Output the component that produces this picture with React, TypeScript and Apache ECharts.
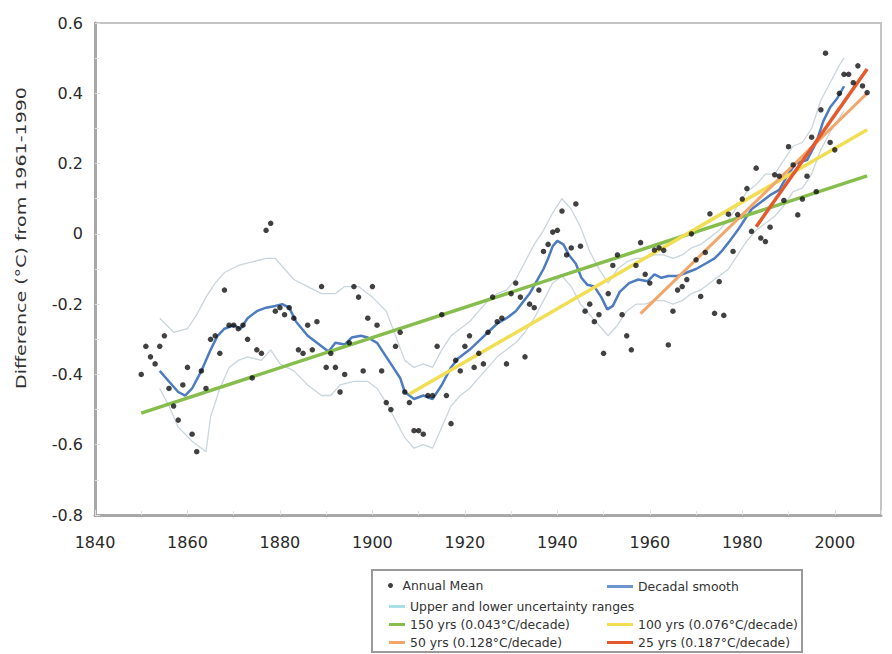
import React, { useEffect, useRef } from 'react';
import * as echarts from 'echarts';

const firstYear = 1850;
const annualMean: number[] = [
  -0.40, -0.32, -0.35, -0.37, -0.32, -0.29, -0.44, -0.49, -0.53, -0.43,
  -0.38, -0.57, -0.62, -0.39, -0.44, -0.30, -0.29, -0.34, -0.16, -0.26,
  -0.26, -0.27, -0.26, -0.30, -0.41, -0.33, -0.34, 0.01, 0.03, -0.22,
  -0.21, -0.23, -0.21, -0.24, -0.33, -0.34, -0.26, -0.33, -0.25, -0.15,
  -0.38, -0.34, -0.38, -0.45, -0.40, -0.31, -0.15, -0.18, -0.39, -0.24,
  -0.15, -0.26, -0.39, -0.48, -0.50, -0.32, -0.28, -0.45, -0.48, -0.56,
  -0.56, -0.57, -0.46, -0.46, -0.32, -0.23, -0.46, -0.54, -0.36, -0.39,
  -0.32, -0.29, -0.38, -0.34, -0.37, -0.28, -0.18, -0.25, -0.24, -0.37,
  -0.17, -0.14, -0.18, -0.35, -0.20, -0.21, -0.16, -0.05, -0.03, 0.005,
  0.01, 0.065, -0.06, -0.04, 0.085, -0.035, -0.22, -0.20, -0.25, -0.23,
  -0.34, -0.17, -0.09, -0.06, -0.23, -0.29, -0.33, -0.09, -0.025, -0.115,
  -0.14, -0.046, -0.04, -0.047, -0.316, -0.22, -0.16, -0.15, -0.13, 0.0,
  -0.074, -0.178, -0.053, 0.057, -0.226, -0.136, -0.232, 0.056, -0.05, 0.055,
  0.099, 0.129, 0.007, 0.187, -0.012, -0.022, 0.019, 0.168, 0.164, 0.095,
  0.248, 0.196, 0.054, 0.099, 0.164, 0.275, 0.12, 0.353, 0.514, 0.26,
  0.239, 0.40, 0.454, 0.454, 0.43, 0.478, 0.421, 0.402,
];

const decadalSmooth: [number, number][] = [
  [1854, -0.39], [1856, -0.42], [1858, -0.45], [1859.5, -0.46], [1861, -0.44],
  [1863, -0.39], [1865, -0.33], [1866.5, -0.29], [1868, -0.27], [1870, -0.26],
  [1871.5, -0.27], [1873, -0.24], [1875, -0.22], [1877, -0.21], [1879, -0.205],
  [1880.5, -0.2], [1882, -0.21], [1883.5, -0.25], [1886, -0.29], [1889, -0.32],
  [1890.5, -0.335], [1892, -0.31], [1894, -0.315], [1895.5, -0.295], [1897.5, -0.29],
  [1899, -0.295], [1901, -0.31], [1902.5, -0.34], [1904, -0.37], [1906, -0.41],
  [1907, -0.45], [1909, -0.47], [1911, -0.46], [1913, -0.47], [1915, -0.43],
  [1917, -0.38], [1918.5, -0.355], [1921, -0.33], [1923, -0.305], [1925, -0.28],
  [1927, -0.255], [1929, -0.24], [1931, -0.22], [1932.5, -0.195], [1934, -0.17],
  [1935.5, -0.135], [1937, -0.1], [1938, -0.07], [1939, -0.035], [1940, -0.02],
  [1941.3, -0.03], [1942.5, -0.06], [1944, -0.085], [1945.2, -0.125], [1946.5, -0.145],
  [1948, -0.15], [1949.5, -0.18], [1950.8, -0.215], [1952, -0.205], [1953.5, -0.165],
  [1955.5, -0.14], [1957.5, -0.13], [1959.5, -0.135], [1961, -0.115], [1962.5, -0.125],
  [1964, -0.12], [1966, -0.12], [1968, -0.11], [1970, -0.1], [1972, -0.085],
  [1974, -0.07], [1975.5, -0.05], [1977, -0.025], [1979, 0.01], [1980.5, 0.04],
  [1982, 0.07], [1984, 0.09], [1986, 0.11], [1988, 0.125], [1989.5, 0.16],
  [1991.5, 0.2], [1994, 0.21], [1996, 0.26], [1997.5, 0.32], [1999, 0.36],
  [2000.5, 0.385], [2002, 0.42],
];

const upperRange: [number, number][] = [
  [1854, -0.24], [1857, -0.28], [1860, -0.27], [1862, -0.23], [1864, -0.18],
  [1866, -0.14], [1868, -0.11], [1871, -0.09], [1874, -0.08], [1877, -0.07],
  [1879, -0.07], [1881, -0.1], [1883, -0.13], [1886, -0.15], [1889, -0.17],
  [1892, -0.17], [1894, -0.15], [1897, -0.15], [1900, -0.18], [1903, -0.22],
  [1905, -0.29], [1907, -0.36], [1909, -0.38], [1911, -0.37], [1913, -0.38],
  [1915, -0.33], [1917, -0.29], [1919, -0.27], [1921, -0.25], [1923, -0.22],
  [1925, -0.19], [1927, -0.17], [1929, -0.16], [1931, -0.13], [1933, -0.08],
  [1935, -0.03], [1937, 0.01], [1939, 0.06], [1941, 0.1], [1943, 0.07],
  [1945, 0.02], [1947, -0.05], [1949, -0.1], [1951, -0.14], [1953, -0.1],
  [1955, -0.08], [1957, -0.07], [1959, -0.07], [1961, -0.06], [1963, -0.06],
  [1965, -0.07], [1967, -0.06], [1969, -0.04], [1971, -0.03], [1973, -0.01],
  [1975, 0.01], [1977, 0.04], [1979, 0.08], [1981, 0.12], [1983, 0.14],
  [1985, 0.17], [1987, 0.17], [1989, 0.21], [1991, 0.25], [1993, 0.26],
  [1995, 0.3], [1997, 0.38], [1999, 0.43], [2001, 0.48], [2002, 0.5],
];

const lowerRange: [number, number][] = [
  [1854, -0.44], [1856, -0.49], [1858, -0.55], [1861, -0.59], [1864, -0.62],
  [1865, -0.52], [1867, -0.44], [1869, -0.38], [1871, -0.36], [1873, -0.35],
  [1876, -0.36], [1878, -0.33], [1880, -0.37], [1883, -0.39], [1886, -0.43],
  [1889, -0.46], [1891, -0.46], [1893, -0.43], [1896, -0.42], [1899, -0.42],
  [1901, -0.44], [1903, -0.48], [1905, -0.53], [1907, -0.58], [1909, -0.61],
  [1911, -0.6], [1913, -0.61], [1915, -0.55], [1917, -0.49], [1919, -0.46],
  [1921, -0.44], [1923, -0.41], [1925, -0.38], [1927, -0.35], [1929, -0.33],
  [1931, -0.31], [1933, -0.28], [1935, -0.24], [1937, -0.19], [1939, -0.14],
  [1941, -0.12], [1943, -0.15], [1945, -0.2], [1947, -0.23], [1949, -0.26],
  [1951, -0.29], [1953, -0.26], [1955, -0.22], [1957, -0.2], [1959, -0.2],
  [1961, -0.19], [1963, -0.19], [1965, -0.2], [1967, -0.19], [1969, -0.17],
  [1971, -0.16], [1973, -0.14], [1975, -0.12], [1977, -0.1], [1979, -0.06],
  [1981, -0.02], [1983, 0.01], [1985, 0.03], [1987, 0.05], [1989, 0.08],
  [1991, 0.12], [1993, 0.13], [1995, 0.17], [1997, 0.24], [1999, 0.29],
  [2001, 0.33], [2002, 0.35],
];

const trend150: [number, number][] = [[1850, -0.51], [2007, 0.165]];
const trend100: [number, number][] = [[1908, -0.456], [2007, 0.296]];
const trend50: [number, number][] = [[1958, -0.227], [2007, 0.4]];
const trend25: [number, number][] = [[1983, 0.02], [2007, 0.469]];

const yTicks = { min: -0.8, max: 0.6, interval: 0.2 };
const xTicks = { min: 1840, max: 2010, interval: 20 };

const NAMES = {
  annual: 'Annual Mean',
  smooth: 'Decadal smooth',
  range: 'Upper and lower uncertainty ranges',
  t150: '150 yrs (0.043°C/decade)',
  t100: '100 yrs (0.076°C/decade)',
  t50: '50 yrs (0.128°C/decade)',
  t25: '25 yrs (0.187°C/decade)',
};

const FONT = 'DejaVu Sans';

export default function App() {
  const ref = useRef<HTMLDivElement>(null);
  useEffect(() => {
    if (!ref.current) return;
    const chart = echarts.init(ref.current, undefined, { renderer: 'svg' });
    const annualData = annualMean.map((v, i) => [firstYear + i, v]);
    const lineSeries = (name: string, data: [number, number][], color: string, width: number, legendColor?: string, z = 2) => ({
      type: 'line',
      name,
      data,
      showSymbol: false,
      symbol: 'none',
      lineStyle: { color, width },
      itemStyle: { color: legendColor || color },
      z,
      silent: true,
    });
    const legendBase = {
      orient: 'horizontal',
      padding: 0,
      itemGap: 0,
      selectedMode: false,
      textStyle: { fontFamily: FONT, fontSize: 12.4, color: '#333' },
    };
    const col1 = 389;
    const col2 = 607;
    const rows = [582, 602, 620, 638];
    chart.setOption({
      animation: false,
      backgroundColor: '#ffffff',
      grid: {
        left: 95, top: 23, right: 11, bottom: 139,
        show: true, borderColor: '#c4c4c4', borderWidth: 2, backgroundColor: 'transparent',
      },
      xAxis: {
        type: 'value',
        min: xTicks.min, max: xTicks.max, interval: xTicks.interval,
        axisLine: { show: true, onZero: false, lineStyle: { color: '#a8a8a8', width: 3 } },
        axisTick: { show: true, inside: true, length: 5, lineStyle: { color: '#e0e0e0' } },
        minorTick: { show: true, splitNumber: 2, length: 4, lineStyle: { color: '#e4e4e4' } },
        splitLine: { show: false },
        axisLabel: {
          margin: 19,
          fontFamily: FONT, fontSize: 16, color: '#2a2a2a',
          formatter: (v: number) => (v % 20 === 0 && v <= 2000 ? String(v) : ''),
        },
      },
      yAxis: {
        type: 'value',
        min: yTicks.min, max: yTicks.max, interval: yTicks.interval,
        axisLine: { show: true, onZero: false, lineStyle: { color: '#a8a8a8', width: 3 } },
        axisTick: { show: true, inside: true, length: 5, lineStyle: { color: '#e0e0e0' } },
        minorTick: { show: true, splitNumber: 2, length: 4, lineStyle: { color: '#e4e4e4' } },
        splitLine: { show: false },
        axisLabel: {
          margin: 12,
          fontFamily: FONT, fontSize: 16, color: '#2a2a2a',
          formatter: (v: number) => {
            const r = Math.round(v * 10) / 10;
            return r === 0 ? '0' : r.toFixed(1);
          },
        },
      },
      legend: [
        { ...legendBase, left: col1 - 1, top: rows[0] - 2.5, itemWidth: 14, itemHeight: 5, data: [{ name: NAMES.annual, icon: 'circle' }] },
        { ...legendBase, left: col2, top: rows[0] - 1.5, itemWidth: 26, itemHeight: 3, data: [{ name: NAMES.smooth, icon: 'rect' }] },
        { ...legendBase, left: col1, top: rows[1] - 1.5, itemWidth: 16, itemHeight: 3, data: [{ name: NAMES.range, icon: 'rect' }] },
        { ...legendBase, left: col1, top: rows[2] - 1.5, itemWidth: 16, itemHeight: 3, data: [{ name: NAMES.t150, icon: 'rect' }] },
        { ...legendBase, left: col2, top: rows[2] - 1.5, itemWidth: 26, itemHeight: 3, data: [{ name: NAMES.t100, icon: 'rect' }] },
        { ...legendBase, left: col1, top: rows[3] - 1.5, itemWidth: 16, itemHeight: 3, data: [{ name: NAMES.t50, icon: 'rect' }] },
        { ...legendBase, left: col2, top: rows[3] - 1.5, itemWidth: 26, itemHeight: 3, data: [{ name: NAMES.t25, icon: 'rect' }] },
      ],
      graphic: [
        {
          type: 'rect', z: -1,
          shape: { x: 372, y: 570, width: 430, height: 82 },
          style: { fill: '#ffffff', stroke: '#9a9a9a', lineWidth: 2 },
        },
        {
          type: 'text', x: 21, y: 238, rotation: Math.PI / 2, scaleX: 1.36,
          style: {
            text: 'Difference (°C) from 1961-1990',
            font: `14px "${FONT}"`, fill: '#333', align: 'center', verticalAlign: 'middle',
          },
        },
      ],
      series: [
        lineSeries(NAMES.range, upperRange, '#c9d6dd', 1.3, '#a9dfe6', 1),
        lineSeries(NAMES.range, lowerRange, '#c9d6dd', 1.3, '#a9dfe6', 1),
        lineSeries(NAMES.smooth, decadalSmooth, '#4d7cbf', 2.5, '#6f93cc', 3),
        lineSeries(NAMES.t150, trend150, '#86bd4c', 3.5, '#86bd4c', 4),
        lineSeries(NAMES.t100, trend100, '#f1de52', 3.5, '#f1de52', 4),
        lineSeries(NAMES.t50, trend50, '#f2a66a', 3, '#f2a66a', 4),
        lineSeries(NAMES.t25, trend25, '#e55a2c', 3.5, '#e55a2c', 5),
        {
          type: 'scatter',
          name: NAMES.annual,
          data: annualData,
          symbol: 'circle',
          symbolSize: 5.5,
          itemStyle: { color: '#111111' },
          z: 6,
          silent: true,
        },
      ],
    });
    return () => chart.dispose();
  }, []);
  return (
    <div
      ref={ref}
      style={{ position: 'fixed', left: 0, top: 0, width: 892, height: 654, background: '#fff' }}
    />
  );
}
